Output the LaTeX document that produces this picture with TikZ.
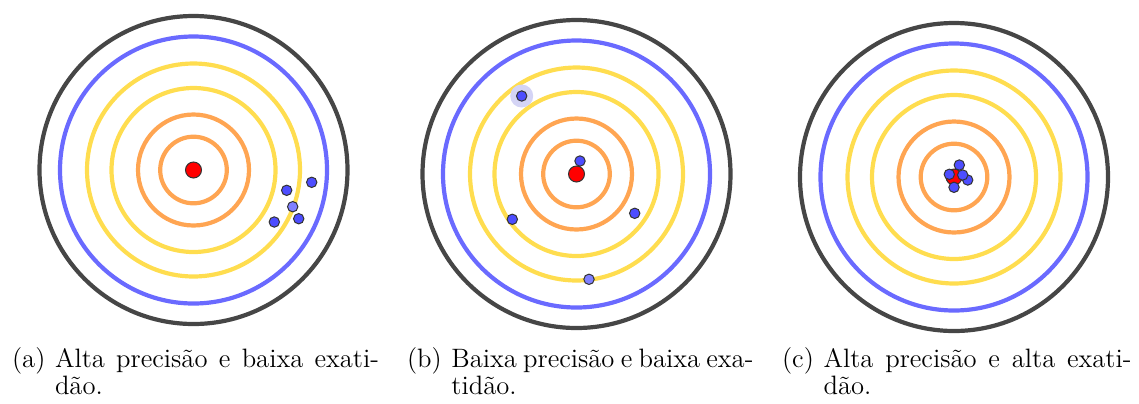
\documentclass[tikz,border=0pt]{standalone}
\usetikzlibrary{calc,positioning}
\definecolor{tgrim}{HTML}{464646}
\definecolor{tgblue}{HTML}{6A6AFF}
\definecolor{tgyellow}{HTML}{FFDD4F}
\definecolor{tgorange}{HTML}{FFA552}
\definecolor{tgcentre}{HTML}{FF0000}
\definecolor{tghit}{HTML}{4D4DFF}
\definecolor{tghitlight}{HTML}{8080FF}
\definecolor{tghalo}{HTML}{D4D4F5}
\definecolor{tgedge}{HTML}{333333}
\tikzset{
  ring/.style={draw=#1,line width=2.1pt},
  bullseye/.style={circle,draw=tgedge,fill=tgcentre,line width=0.5pt,
    minimum size=8pt,inner sep=0pt},
  hit/.style={circle,draw=tgedge,fill=tghit,line width=0.5pt,
    minimum size=5.2pt,inner sep=0pt},
  hitlight/.style={hit,fill=tghitlight},
  halo/.style={circle,fill=tghalo,minimum size=11.5pt,inner sep=0pt},
  sublabel/.style={inner sep=0pt,anchor=base west,font=\fontsize{13.3}{13.4}\selectfont},
  subtext/.style={inner sep=0pt,anchor=base west,align=justify,text width=#1,
    font=\fontsize{13.3}{13.4}\selectfont},
}

\begin{document}
\begin{tikzpicture}[x=0.5pt,y=-0.5pt]
  \path[use as bounding box] (0,0) rectangle (1139,403);
  % rings
  \foreach \t/\cx/\cy in {a/193.5/170,b/576.5/174,c/954/177}
    {\coordinate (t\t) at (\cx,\cy);
     \foreach \r/\c in {154/tgrim,133.5/tgblue,106.5/tgyellow,82/tgyellow,55.5/tgorange,33.3/tgorange}
       {\draw[ring=\c] (t\t) circle[radius=\r];}}
  % (b) hits, under the centre
  \node[halo] (hb) at ($(tb)+(-54.8,-78)$) {};
  \node[hit] (b1) at ($(tb)+(-54.8,-78)$) {};
  \foreach \i/\dx/\dy in {2/3.5/-13,3/-64.2/45.3,4/58.2/39.3}
    {\node[hit] (b\i) at ($(tb)+(\dx,\dy)$) {};}
  \node[hitlight] (b5) at ($(tb)+(12.5,105.3)$) {};
  \foreach \t in {a,b,c}
    {\node[bullseye] (m\t) at (t\t) {};}
  % (a) hits
  \node[hitlight] (a5) at ($(ta)+(99.2,36.7)$) {};
  \foreach \i/\dx/\dy in {1/118.2/12.3,2/93.2/20.3,3/105.2/48.7,4/80.8/52}
    {\node[hit] (a\i) at ($(ta)+(\dx,\dy)$) {};}
  % (c) hits
  \foreach \i/\dx/\dy in {1/5.3/-12,2/-4.7/-2.7,3/13.7/3,4/8.7/-2,5/0/10.3}
    {\node[hit] (c\i) at ($(tc)+(\dx,\dy)$) {};}
  % captions
  \node[sublabel] (la) at (11.7,367.5) {(a)};
  \node[subtext=162pt,right=4.4pt of la.base east,anchor=base west] (ca)
    {Alta precisão e baixa exati-\linebreak dão.};
  \node[sublabel] (lb) at (406.7,367.5) {(b)};
  \node[subtext=151pt,right=4.4pt of lb.base east,anchor=base west] (cb)
    {Baixa precisão e baixa exa-\linebreak tidão.};
  \node[sublabel] (lc) at (781.7,367.5) {(c)};
  \node[subtext=154pt,right=4.4pt of lc.base east,anchor=base west] (cc)
    {Alta precisão e alta exati-\linebreak dão.};
\end{tikzpicture}
\end{document}
